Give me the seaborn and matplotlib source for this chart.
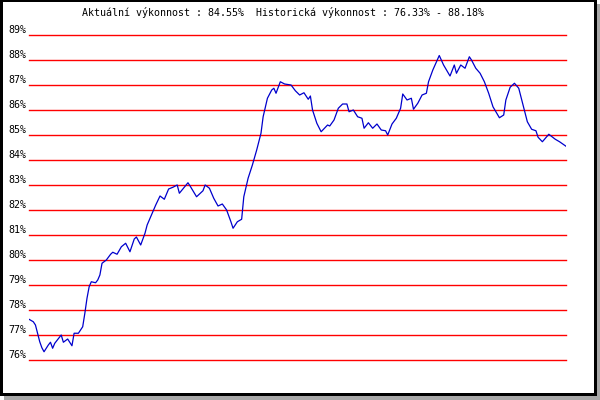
import numpy as np
import pandas as pd
import matplotlib
matplotlib.use('Agg')
import matplotlib.pyplot as plt
from matplotlib.patches import Rectangle
from matplotlib.transforms import ScaledTranslation
import seaborn as sns

# den (poradi obchodniho dne) a vykonnost v %
days = [0, 2, 3, 4, 5, 6, 7, 9, 10, 11, 12, 15, 16, 18, 20, 21, 23, 25, 26, 27,
        28, 29, 31, 32, 33, 34, 36, 38, 39, 41, 43, 45, 47, 49, 50, 52, 54, 55,
        59, 61, 63, 65, 67, 69, 70, 74, 75, 78, 81, 82, 84, 86, 88, 90, 92, 94,
        95, 97, 99, 100, 102, 104, 106, 108, 109, 111, 113, 114, 115, 117, 119, 122,
        124, 126, 128, 130, 131, 132, 134, 136, 139, 140, 142, 144, 146, 148, 149,
        151, 153, 155, 156, 158, 160, 162, 164, 166, 167, 169, 171, 173, 174, 176,
        178, 179, 181, 183, 185, 186, 188, 191, 193, 196, 198, 199, 201, 203, 205,
        206, 208, 210, 212, 214, 216, 219, 221, 222, 224, 226, 228, 230, 232, 234,
        236, 237, 239, 242, 245, 247, 250]
perf = [77.63, 77.53, 77.40, 77.07, 76.73, 76.49, 76.33, 76.60, 76.71, 76.47,
        76.67, 77.00, 76.71, 76.84, 76.57, 77.07, 77.07, 77.33, 77.87, 78.47,
        78.93, 79.13, 79.09, 79.20, 79.40, 79.87, 80.00, 80.23, 80.31, 80.23,
        80.53, 80.67, 80.33, 80.84, 80.92, 80.60, 81.07, 81.40,
        82.20, 82.56, 82.43, 82.84, 82.91, 83.00, 82.67, 83.09, 82.96, 82.53,
        82.77, 83.00, 82.87, 82.47, 82.16, 82.24, 82.00, 81.53, 81.27, 81.53,
        81.63, 82.53, 83.27, 83.80, 84.40, 85.07, 85.73, 86.47, 86.80, 86.87,
        86.67, 87.13, 87.04, 87.00,
        86.77, 86.60, 86.69, 86.43, 86.56, 86.00, 85.47, 85.13, 85.40, 85.36,
        85.60, 86.07, 86.24, 86.24, 85.93, 86.00, 85.73, 85.67, 85.27, 85.49,
        85.27, 85.44, 85.20, 85.17, 85.00, 85.44, 85.67, 86.07, 86.64, 86.40,
        86.47, 86.03, 86.27, 86.60, 86.67, 87.13, 87.60, 88.18, 87.80, 87.36,
        87.80, 87.47, 87.80, 87.67, 88.13, 88.00, 87.67, 87.47, 87.13, 86.67,
        86.13, 85.69, 85.80, 86.40, 86.91, 87.07, 86.87, 86.20, 85.53, 85.23,
        85.17, 84.91, 84.73, 85.03, 84.83, 84.73, 84.55]
levels = list(range(76, 90))
title = 'Aktuální výkonnost : 84.55%  Historická výkonnost : 76.33% - 88.18%'

df = pd.DataFrame({'den': days, 'vykon': perf})

plt.rcParams['font.family'] = ['DejaVu Sans Mono']
W, H = 600, 400
fig = plt.figure(figsize=(6, 4), dpi=100)
fig.patch.set_facecolor('white')

# ramecek se stinem
fig.patches.append(Rectangle((4 / W, 0), 596 / W, 396 / H, transform=fig.transFigure,
                             facecolor='#a8a8a8', edgecolor='none', zorder=-3))
fig.patches.append(Rectangle((0, 4 / H), 597 / W, 396 / H, transform=fig.transFigure,
                             facecolor='black', edgecolor='none', zorder=-2))
fig.patches.append(Rectangle((3 / W, 7 / H), 591 / W, 391 / H, transform=fig.transFigure,
                             facecolor='white', edgecolor='none', zorder=-1))

ax = fig.add_axes([29 / W, (H - 360) / H, 537 / W, 325 / H])
ax.set_zorder(5)
ax.patch.set_alpha(0)
for lv in levels:
    ax.axhline(lv, color='#ff0000', lw=1.0, zorder=1, clip_on=False)
sns.lineplot(data=df, x='den', y='vykon', ax=ax, color='#0000cc', lw=0.9, zorder=3)

ax.set_xlim(0, 250)
ax.set_ylim(76, 89)
for s in ax.spines.values():
    s.set_visible(False)
ax.set_xticks([])
ax.set_yticks(levels)
ax.set_yticklabels([f'{v}%' for v in levels], fontsize=7.2)
ax.tick_params(axis='y', length=0, pad=2.2)
for lab in ax.get_yticklabels():
    lab.set_transform(lab.get_transform() + ScaledTranslation(0, 0.06, fig.dpi_scale_trans))
ax.set_xlabel('')
ax.set_ylabel('')

fig.text(82 / W, 1 - 13 / H, title, fontsize=7.2, ha='left', va='center')

fig.savefig('out.png', dpi=100)
